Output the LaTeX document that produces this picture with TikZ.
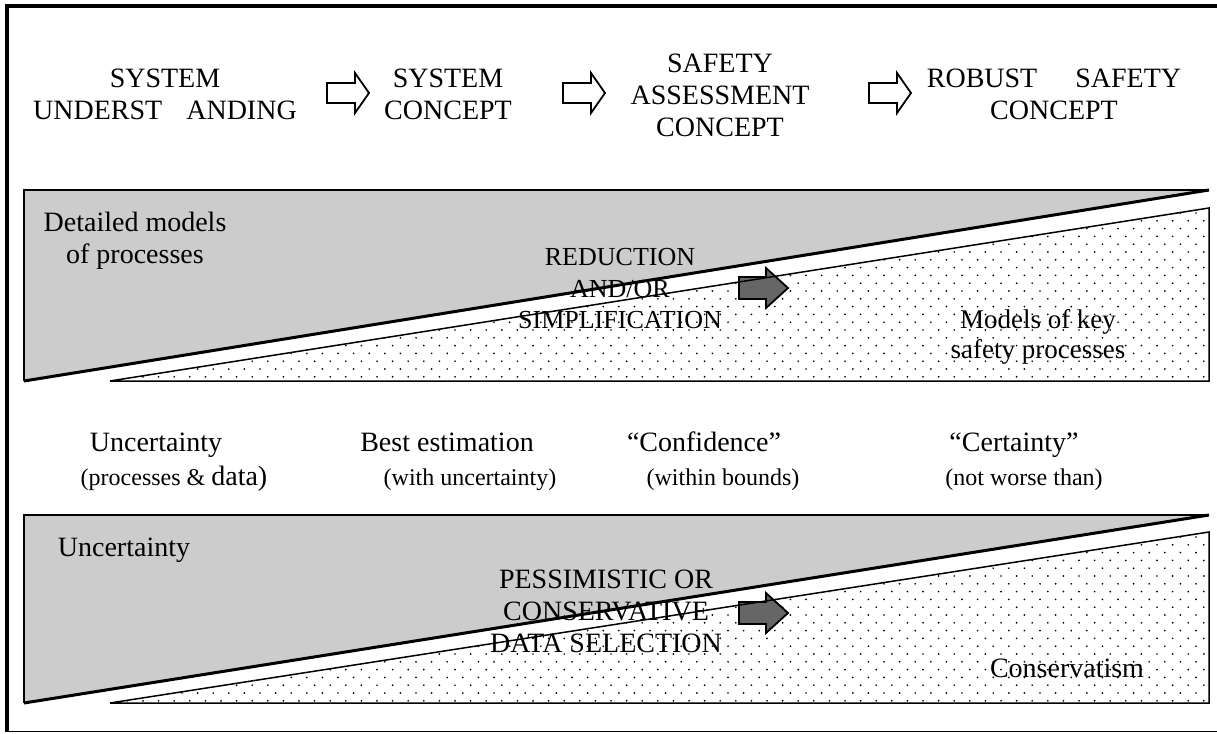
\documentclass[tikz,border=0pt]{standalone}
\usepackage{fontspec}
\setmainfont{Liberation Serif}
\definecolor{wedgegray}{HTML}{CCCCCC}
\definecolor{arrowgray}{HTML}{666666}
\tikzset{
  big/.style={font=\fontsize{28}{32}\selectfont, align=center, inner sep=0pt},
  mid/.style={font=\fontsize{26}{31.5}\selectfont, align=center, inner sep=0pt},
  small/.style={font=\fontsize{24}{28}\selectfont, inner sep=0pt},
  hollow/.pic={
    \draw[line width=1.8pt, fill=white, line join=miter]
      (-21,-10) -- (7,-10) -- (7,-20) -- (21,0) -- (7,20) -- (7,10) -- (-21,10) -- cycle;},
  solid/.pic={
    \draw[line width=1.8pt, fill=arrowgray, line join=miter]
      (-24,-11) -- (3,-11) -- (3,-20) -- (25,0) -- (3,20) -- (3,11) -- (-24,11) -- cycle;},
}
% staggered dot screen filling the current clip region
\newcommand{\dotscreen}[2]{% #1 = first row y, #2 = last row y
  \foreach \j in {0,...,24}{
    \pgfmathsetmacro{\yy}{#1+\j*7.8}
    \pgfmathsetmacro{\xo}{mod(\j,2)*7.8}
    \ifdim\yy pt<#2pt
      \foreach \i in {0,...,72}{
        \fill (104+\xo+\i*15.6,\yy) circle (0.95pt);
      }
    \fi
  }}
\begin{document}
\begin{tikzpicture}[x=1pt,y=-1pt]
\useasboundingbox (0,0) rectangle (1217,733);

% page frame
\draw[line width=4pt] (1217,6) -- (6.5,6) -- (6.5,731.5);
\draw[line width=1.3pt] (6.5,731.5) -- (1217,731.5);

% ---------- upper wedge pair: fills ----------
\fill[wedgegray] (24,190) -- (1209,190) -- (24,381) -- cycle;
\begin{scope}
  \clip (110,381) -- (1209,208) -- (1209,381) -- cycle;
  \dotscreen{213}{382}
\end{scope}

% ---------- lower wedge pair: fills ----------
\fill[wedgegray] (24,515) -- (1209,515) -- (24,703) -- cycle;
\begin{scope}
  \clip (110,703) -- (1209,532) -- (1209,703) -- cycle;
  \dotscreen{537}{704}
\end{scope}

% ---------- top row: stages of the approach ----------
\node[big] (und) at (165,94) {SYSTEM\\UNDERST\hspace{24pt}ANDING};
\node[big] (sys) at (448,94) {SYSTEM\\CONCEPT};
\node[big] (sac) at (720,95) {SAFETY\\ASSESSMENT\\CONCEPT};
\node[big] (rsc) at (1054,94) {ROBUST\hspace{38pt}SAFETY\\CONCEPT};
\pic at (348,93) {hollow};
\pic at (584,93) {hollow};
\pic at (890,93) {hollow};

% ---------- upper wedge labels ----------
\node[big] (det) at (135,241) {Detailed models\\of processes};
\node[mid] (red) at (620,289) {REDUCTION\\AND/OR\\SIMPLIFICATION};
\node[mid, font=\fontsize{27}{30}\selectfont] (key) at (1038,337) {Models of key\\safety processes};
\pic at (763,288) {solid};

% ---------- middle row ----------
\node[big, anchor=base] (unc) at (156,451) {Uncertainty};
\node[small, anchor=base] (uncs) at (174,485) {(processes \& {\fontsize{28}{28}\selectfont data)}};
\node[big, anchor=base] (best) at (447,451) {Best estimation};
\node[small, anchor=base] (bests) at (470,485) {(with uncertainty)};
\node[big, anchor=base] (conf) at (704,451) {“Confidence”};
\node[small, anchor=base] (confs) at (723,485) {(within bounds)};
\node[big, anchor=base] (cert) at (1014,451) {“Certainty”};
\node[small, anchor=base] (certs) at (1024,485) {(not worse than)};

% ---------- lower wedge labels ----------
\node[big, anchor=base] (unc2) at (124,556) {Uncertainty};
\node[big] (pes) at (606,611) {PESSIMISTIC OR\\CONSERVATIVE\\DATA SELECTION};
\node[big, anchor=base] (cons) at (1067,677) {Conservatism};
\pic at (763,613) {solid};

% ---------- wedge outlines ----------
\draw[line width=1.5pt] (24,381) -- (24,190) -- (1209,190);
\draw[line width=3pt] (24,381) -- (1209,190);
\draw[line width=1.5pt] (110,381) -- (1209,208) -- (1209,381) -- cycle;

\draw[line width=1.5pt] (24,703) -- (24,515) -- (1209,515);
\draw[line width=3pt] (24,703) -- (1209,515);
\draw[line width=1.5pt] (110,703) -- (1209,532) -- (1209,703) -- cycle;
\end{tikzpicture}
\end{document}
